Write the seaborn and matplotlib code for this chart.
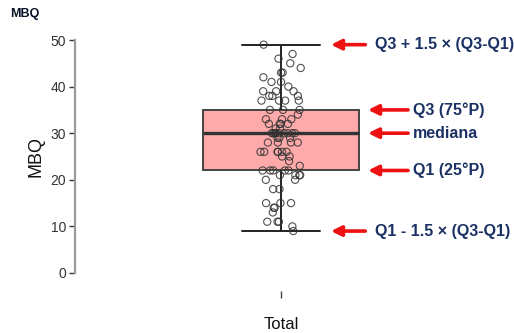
import numpy as np
import pandas as pd
import matplotlib
matplotlib.use("Agg")
import matplotlib.pyplot as plt
import seaborn as sns

# MBQ scores for the whole sample
mbq = [49, 47, 46, 45, 44, 43, 43, 42, 41, 41, 40, 39, 39, 39, 38, 38, 38,
       37, 37, 37, 37,
       35, 35, 35, 34, 33, 33, 33, 32, 32, 32, 32, 31, 31,
       30, 30, 30, 30, 30, 30, 30, 30, 30, 30,
       29, 29, 29, 28, 28, 28, 28, 26, 26, 26, 26, 26, 26, 25, 25, 24, 23,
       22, 22, 22, 22, 22, 21, 21, 21, 21, 20, 20, 18, 18,
       15, 15, 15, 14, 14, 13, 11, 11, 11, 10, 9]
group = ["Total"] * len(mbq)

y_ticks = [0, 10, 20, 30, 40, 50]
notes = ["Q3 + 1.5 × (Q3-Q1)", "Q3 (75°P)", "mediana", "Q1 (25°P)",
         "Q1 - 1.5 × (Q3-Q1)"]

df = pd.DataFrame({"grupo": group, "MBQ": mbq})

sns.set_style("white")
plt.rcParams["font.family"] = ["Liberation Sans", "DejaVu Sans"]

fig = plt.figure(figsize=(5.14, 3.33), dpi=100)
ax = fig.add_axes([75 / 514, 60 / 333, 425 / 514, 233 / 333])

sns.boxplot(data=df, x="grupo", y="MBQ", ax=ax, width=0.8, saturation=1,
            color="#ffaaaa", linecolor="#444444", linewidth=1.4,
            showfliers=False, whis=1.5,
            medianprops=dict(color="#333333", linewidth=2.4),
            whiskerprops=dict(color="#222222", linewidth=1.4),
            capprops=dict(color="#222222", linewidth=1.4))

np.random.seed(7)
sns.stripplot(data=df, x="grupo", y="MBQ", ax=ax, jitter=0.105, size=5.2,
              facecolor="none", edgecolor="#333333", linewidth=0.8,
              alpha=0.85, zorder=3)

ax.set_xlim(-1.051, 1.117)
ax.set_ylim(0, 50)
ax.set_yticks(y_ticks)
ax.set_xlabel("")
ax.set_ylabel("MBQ", fontsize=13, color="#111111", labelpad=4)
ax.tick_params(axis="y", length=4.5, width=1, color="#333333",
               labelsize=10, labelcolor="#333333", left=True, pad=2)
ax.tick_params(axis="x", length=5, width=1, color="#444444",
               labelsize=12, labelcolor="#111111", bottom=True, pad=14)

for side in ["top", "right", "bottom"]:
    ax.spines[side].set_visible(False)
ax.spines["bottom"].set_position(("outward", 13))
ax.spines["left"].set_color("#9a9a9a")
ax.spines["left"].set_linewidth(1.6)

fig.text(10 / 514, 1 - 14 / 333, "MBQ", fontsize=9, fontweight="bold",
         color="#0a1428", va="center", ha="left")

# Annotated box-plot statistics
q1, med, q3 = np.percentile(mbq, [25, 50, 75])
lo, hi = min(mbq), max(mbq)
targets = [(hi, 0.255, 0.43, 0.48), (q3, 0.444, 0.648, 0.673),
           (med, 0.444, 0.648, 0.673), (q1, 0.444, 0.648, 0.673),
           (lo, 0.255, 0.43, 0.48)]
for text, (yv, tip, tail, tx) in zip(notes, targets):
    ax.annotate("", xy=(tip, yv), xytext=(tail, yv),
                arrowprops=dict(arrowstyle="-|>", color="#ee1111", lw=2.6,
                                mutation_scale=15, shrinkA=0, shrinkB=0),
                annotation_clip=False)
    ax.text(tx, yv, text, fontsize=11.5, fontweight="bold", color="#1c3264",
            va="center", ha="left", clip_on=False)

fig.savefig("out.png", dpi=100)
